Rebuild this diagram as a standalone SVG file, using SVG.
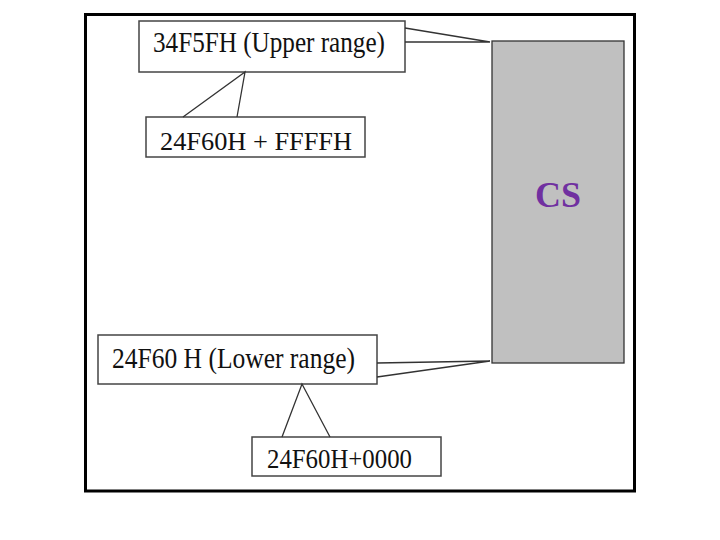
<svg xmlns="http://www.w3.org/2000/svg" width="720" height="540" viewBox="0 0 720 540">
<style>
.box{fill:#fff;stroke:#444;stroke-width:1.5}
.ptr{fill:none;stroke:#333;stroke-width:1.3}
.lbl{font-family:"Liberation Serif","Times New Roman",serif;fill:#111}
.cs{font-family:"Liberation Serif","Times New Roman",serif;font-size:36px;font-weight:bold;fill:#7030A0}
</style>
<rect x="0" y="0" width="720" height="540" fill="#fff"/>
<rect id="frame" x="85.5" y="14.5" width="549" height="476.5" fill="#fff" stroke="#000" stroke-width="3"/>
<g id="cs">
<rect x="492" y="41" width="132" height="322" fill="#c0c0c0" stroke="#333" stroke-width="1.3"/>
<text class="cs" x="558" y="207" text-anchor="middle" textLength="46" lengthAdjust="spacingAndGlyphs">CS</text>
</g>
<g id="upper">
<rect class="box" x="139" y="21" width="266" height="51"/>
<text class="lbl" x="153" y="52" font-size="30" textLength="232" lengthAdjust="spacingAndGlyphs">34F5FH (Upper range)</text>
</g>
<g id="upper-sum">
<rect class="box" x="146" y="117" width="219" height="40"/>
<text class="lbl" x="160" y="150" font-size="26" textLength="192" lengthAdjust="spacingAndGlyphs">24F60H + FFFFH</text>
</g>
<g id="lower">
<rect class="box" x="98" y="335" width="279" height="49"/>
<text class="lbl" x="112" y="368" font-size="29" textLength="243" lengthAdjust="spacingAndGlyphs">24F60 H (Lower range)</text>
</g>
<g id="lower-sum">
<rect class="box" x="252" y="437" width="189" height="39"/>
<text class="lbl" x="267" y="468" font-size="27" textLength="145" lengthAdjust="spacingAndGlyphs">24F60H+0000</text>
</g>
<g id="connectors">
<polyline class="ptr" points="405,28 490,42 405,42"/>
<polyline class="ptr" points="183,117 245,72 237,117"/>
<polyline class="ptr" points="377,363 490,361 377,377"/>
<polyline class="ptr" points="282,437 302,384 330,437"/>
</g>
</svg>
